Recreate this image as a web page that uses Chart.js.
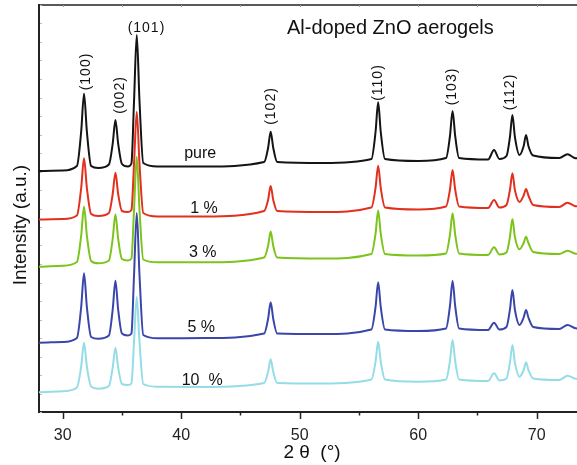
<!DOCTYPE html>
<html>
<head>
<meta charset="utf-8">
<script src="https://cdn.jsdelivr.net/npm/chart.js@4.4.1/dist/chart.umd.min.js"></script>
<style>
  html, body { margin: 0; padding: 0; background: #fff; }
  #xrdChart { display: block; }
</style>
</head>
<body>
<canvas id="xrdChart" width="577" height="465"></canvas>
<script>
// 2θ sampling positions shared by all patterns (degrees)
const twoTheta = [
  28.0, 30.0,
  31.2, 31.56, 31.8, 32.04, 32.4,
  33.0,
  33.9, 34.22, 34.45, 34.68, 35.0,
  35.5,
  35.8, 36.02, 36.25, 36.48, 36.8,
  38.0, 42.0,
  47.0, 47.33, 47.55, 47.77, 48.1,
  52.0,
  56.05, 56.4, 56.62, 56.84, 57.2,
  60.0,
  62.35, 62.68, 62.9, 63.12, 63.45,
  65.9, 66.4, 66.85,
  67.45, 67.74, 67.95, 68.16,
  68.55,
  68.9, 69.1, 69.3, 69.7,
  71.9, 72.6, 73.2, 73.6
];

// intensities (a.u., patterns already stacked with offsets)
const pure = [
  241, 241.5,
  246, 280.5, 318.3, 280.5, 246,
  244,
  247.5, 268.4, 292, 268.4, 248,
  245.5,
  248.5, 311, 377, 311, 249,
  245.5, 245.5,
  250, 264, 280.3, 264, 250,
  249,
  253, 280, 309.7, 280, 253,
  251,
  254, 276, 301, 276, 254,
  252.5, 262, 253,
  256, 275, 297, 275,
  257,
  266, 277, 266, 256.5,
  254, 257.7, 254, 253.5
];
const al1 = [
  192.5, 193,
  196.5, 224, 253.7, 224, 198,
  196,
  199, 218, 239.3, 218, 201,
  200,
  202, 248.5, 300.3, 248.5, 199,
  195.5, 195.5,
  201, 212, 226, 212, 201,
  200,
  204.5, 224, 246.3, 224, 204.5,
  202.5,
  205.5, 222.5, 242, 222.5, 205.5,
  204, 212, 204.5,
  207, 222, 238.7, 222,
  210,
  216.5, 223, 216.5, 207,
  205, 209.3, 206, 205.5
];
const al3 = [
  145.3, 146.3,
  150, 176.5, 205.3, 176.5, 151,
  148.7,
  151.5, 173.3, 197.7, 173.3, 153,
  151.5,
  153.5, 202.5, 255.3, 202.5, 152.5,
  149.7, 149.7,
  154.5, 166, 180.5, 166, 154.5,
  153.5,
  158, 178.3, 201.5, 178.3, 158,
  156.5,
  158.5, 177.5, 198.7, 177.5, 158.5,
  157, 164.7, 157.5,
  159.5, 175, 193, 175,
  162.7,
  169, 175.3, 169, 160,
  158, 161.3, 158.5, 158
];
const al5 = [
  69.3, 70,
  74, 105, 138.7, 105, 75,
  73.3,
  76.5, 102.5, 131.3, 102.5, 78.5,
  76.5,
  78.5, 137, 199, 137, 77,
  73.7, 74,
  78.5, 93, 109.7, 93, 78.5,
  78,
  82.5, 105, 129.7, 105, 82.5,
  81,
  83.5, 106, 131.3, 106, 83.5,
  82, 89.3, 82.5,
  85, 102.3, 122, 102.3,
  87,
  94.5, 102, 94.5, 85,
  83, 87, 84, 83
];
const al10 = [
  19.7, 20.7,
  24.5, 45.5, 69.3, 45.5, 25.5,
  23.3,
  26, 44.5, 64.3, 44.5, 28,
  27,
  28.5, 70.5, 115.3, 70.5, 28,
  25.3, 25,
  29, 40, 52.7, 40, 29,
  28.5,
  32.5, 50.3, 70.3, 50.3, 32.5,
  30.3,
  32.5, 51, 72, 51, 32.5,
  31, 38.7, 31.5,
  33.5, 49.3, 67, 49.3,
  35.3,
  42, 49.7, 42, 33.5,
  32, 36.3, 33.5, 33
];

// sample names and where they sit next to their curves
const sampleNames = ['pure', '1 %', '3 %', '5 %', '10  %'];
const sampleLabelTheta = [41.6, 41.92, 41.82, 41.69, 41.77];
const sampleLabelLevel = [254.5, 199, 155, 80, 27];

// Miller indices of the wurtzite reflections
const peakNames = ['(100)', '(002)', '(101)', '(102)', '(110)', '(103)', '(112)'];
const peakLabelTheta = [31.94, 34.81, 37.07, 47.55, 56.6, 62.9, 67.75];
const peakLabelLevel = [340.5, 317, 380.3, 306, 329.5, 325.5, 320];
const peakLabelUpright = [false, false, true, false, false, false, false];

const seriesColors = ['#141414', '#e2301f', '#7cc41c', '#3a46aa', '#94dde6'];
const seriesData = [pure, al1, al3, al5, al10];

const FONT = "'Liberation Sans', Arial, sans-serif";

function toPoints(values) {
  return twoTheta.map((t, i) => ({ x: t, y: values[i] }));
}

const xrdDecor = {
  id: 'xrdDecor',
  afterDraw(chart) {
    const { ctx, chartArea: a, scales: { x, y } } = chart;
    ctx.save();

    // top frame line
    ctx.strokeStyle = '#222';
    ctx.lineWidth = 1.5;
    ctx.beginPath();
    ctx.moveTo(a.left, a.top);
    ctx.lineTo(a.right, a.top);
    ctx.stroke();

    // bottom ticks: long at 10°, short at 5°; faint marks under the top frame
    x.ticks.forEach(t => {
      const px = Math.round(x.getPixelForValue(t.value)) + 0.5;
      const len = t.value % 10 === 0 ? 7 : 3.5;
      ctx.strokeStyle = '#222';
      ctx.lineWidth = 1.5;
      ctx.beginPath();
      ctx.moveTo(px, a.bottom);
      ctx.lineTo(px, a.bottom + len);
      ctx.stroke();
      ctx.strokeStyle = '#999';
      ctx.lineWidth = 1;
      ctx.beginPath();
      ctx.moveTo(px, a.top);
      ctx.lineTo(px, a.top + 2);
      ctx.stroke();
    });

    // tiny inward ticks on the intensity axis
    ctx.strokeStyle = '#bbb';
    ctx.lineWidth = 1;
    y.ticks.forEach(t => {
      const py = Math.round(y.getPixelForValue(t.value)) + 0.5;
      ctx.beginPath();
      ctx.moveTo(a.left + 1, py);
      ctx.lineTo(a.left + 3, py);
      ctx.stroke();
    });

    ctx.fillStyle = '#111';

    // reflection labels
    ctx.font = '14px ' + FONT;
    ctx.letterSpacing = '1px';
    peakNames.forEach((name, i) => {
      const px = x.getPixelForValue(peakLabelTheta[i]);
      const py = y.getPixelForValue(peakLabelLevel[i]);
      ctx.save();
      ctx.translate(px, py);
      ctx.textAlign = 'center';
      if (peakLabelUpright[i]) {
        ctx.textBaseline = 'alphabetic';
      } else {
        ctx.rotate(-Math.PI / 2);
        ctx.textBaseline = 'middle';
      }
      ctx.fillText(name, 0, 0);
      ctx.restore();
    });
    ctx.letterSpacing = '0px';

    // sample labels
    ctx.font = '16px ' + FONT;
    ctx.textAlign = 'center';
    ctx.textBaseline = 'alphabetic';
    sampleNames.forEach((name, i) => {
      ctx.fillText(name, x.getPixelForValue(sampleLabelTheta[i]), y.getPixelForValue(sampleLabelLevel[i]));
    });

    // panel title
    ctx.font = '20px ' + FONT;
    ctx.textAlign = 'left';
    ctx.fillText('Al-doped ZnO aerogels', 287, 34);

    // axis titles
    ctx.font = '19px ' + FONT;
    ctx.textAlign = 'center';
    ctx.fillText('2 θ  (°)', 312, 458);
    ctx.save();
    ctx.translate(26, 225);
    ctx.rotate(-Math.PI / 2);
    ctx.fillText('Intensity (a.u.)', 0, 0);
    ctx.restore();

    ctx.restore();
  }
};

const canvas = document.getElementById('xrdChart');
const xrdChart = new Chart(canvas.getContext('2d'), {
  type: 'line',
  data: {
    datasets: sampleNames.map((name, i) => ({
      label: name,
      data: toPoints(seriesData[i]),
      borderColor: seriesColors[i],
      borderWidth: 2,
      pointRadius: 0,
      fill: false,
      cubicInterpolationMode: 'monotone'
    }))
  },
  options: {
    responsive: false,
    animation: false,
    layout: { padding: { top: 5, right: 0, bottom: 0, left: 0 } },
    plugins: {
      legend: { display: false },
      tooltip: { enabled: false }
    },
    scales: {
      x: {
        type: 'linear',
        min: 28,
        max: 73.4,
        border: { display: true, color: '#222', width: 2 },
        grid: { display: false, drawTicks: false },
        ticks: {
          stepSize: 5,
          includeBounds: false,
          autoSkip: false,
          maxRotation: 0,
          padding: 14,
          color: '#222',
          font: { family: FONT, size: 16 },
          callback: v => (v % 10 === 0 ? v : '')
        },
        afterFit: s => { s.height = 53; }
      },
      y: {
        min: 0,
        max: 407,
        border: { display: true, color: '#222', width: 2 },
        grid: { display: false, drawTicks: false },
        ticks: { display: false, stepSize: 18.5, includeBounds: false },
        afterFit: s => { s.width = 39; }
      }
    }
  },
  plugins: [xrdDecor]
});
</script>
</body>
</html>
